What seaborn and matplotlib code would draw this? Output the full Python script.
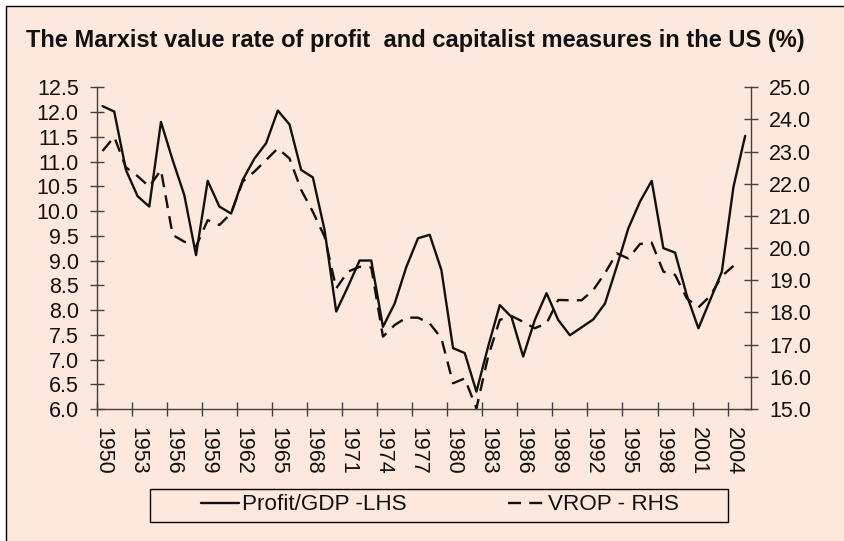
import numpy as np
import pandas as pd
import seaborn as sns
import matplotlib.pyplot as plt
from matplotlib.patches import Rectangle
from matplotlib.ticker import FormatStrFormatter, MultipleLocator

# data
years = list(range(1950, 2006))
profit_gdp = [12.12, 12.01, 10.83, 10.30, 10.09, 11.80, 11.03, 10.32, 9.11, 10.61,
              10.09, 9.95, 10.63, 11.06, 11.37, 12.03, 11.75, 10.83, 10.68, 9.62,
              7.97, 8.47, 9.00, 9.00, 7.66, 8.13, 8.87, 9.45, 9.52, 8.81,
              7.23, 7.13, 6.35, 7.26, 8.10, 7.86, 7.06, 7.80, 8.34, 7.80,
              7.49, 7.65, 7.81, 8.13, 8.87, 9.65, 10.19, 10.61, 9.25, 9.16,
              8.30, 7.63, 8.20, 8.77, 10.49, 11.52]
vrop = [23.02, 23.46, 22.51, 22.24, 21.91, 22.43, 20.41, 20.20, 20.05, 20.87,
        20.72, 21.08, 22.07, 22.38, 22.74, 23.10, 22.79, 21.81, 21.13, 20.36,
        18.75, 19.27, 19.42, 19.40, 17.25, 17.61, 17.84, 17.84, 17.66, 17.20,
        15.80, 15.95, 15.02, 16.63, 17.77, 17.89, 17.71, 17.51, 17.66, 18.39,
        18.38, 18.38, 18.70, 19.22, 19.84, 19.68, 20.13, 20.17, 19.27, 19.17,
        18.44, 18.16, 18.51, 19.13, 19.45, np.nan]
title = 'The Marxist value rate of profit  and capitalist measures in the US (%)'
label_lhs = 'Profit/GDP -LHS'
label_rhs = 'VROP - RHS'

BG = '#FDE8DD'
INK = '#111111'
AXC = '#404040'

df = pd.DataFrame({'year': years, 'profit': profit_gdp, 'vrop': vrop})
df['pos'] = np.arange(len(df))

sns.set_theme(style='white')
plt.rcParams['font.family'] = ['Liberation Sans', 'DejaVu Sans']

W, H = 844, 541
fig = plt.figure(figsize=(W / 100, H / 100), dpi=100, facecolor='white')

# chart-area frame (top/left border visible, cut at right/bottom)
fig.patches.append(Rectangle((6 / W, -0.1), 1.2, 1.1 - 6 / H, transform=fig.transFigure,
                             facecolor=BG, edgecolor='black', lw=1.0, zorder=-10))

ax = fig.add_axes([96.7 / W, 1 - 409 / H, (751 - 96.7) / W, (409 - 87.3) / H])
ax.set_facecolor('none')
ax2 = ax.twinx()
ax2.set_facecolor('none')

sns.lineplot(data=df, x='pos', y='profit', ax=ax, color=INK, lw=1.7, label=label_lhs, legend=False)
sns.lineplot(data=df, x='pos', y='vrop', ax=ax2, color=INK, lw=1.7,
             linestyle=(0, (5.5, 3.5)), label=label_rhs, legend=False)

n = len(years)
ax.set_xlim(-0.5, n - 0.5)
ax.set_ylim(6.0, 12.5)
ax2.set_ylim(15.0, 25.0)

ax.yaxis.set_major_locator(MultipleLocator(0.5))
ax.yaxis.set_major_formatter(FormatStrFormatter('%.1f'))
ax2.yaxis.set_major_locator(MultipleLocator(1.0))
ax2.yaxis.set_major_formatter(FormatStrFormatter('%.1f'))

# ticks between categories, labels at category centres
ax.set_xticks(np.arange(-0.5, n, 3))
ax.set_xticklabels([])
ax.set_xticks(df['pos'][::3], minor=True)
ax.set_xticklabels([str(y) for y in years[::3]], minor=True, rotation=-90)

for a in (ax, ax2):
    a.set_xlabel('')
    a.set_ylabel('')
    a.grid(False)
    for s in a.spines.values():
        s.set_visible(False)

ax.spines['left'].set_visible(True)
ax.spines['bottom'].set_visible(True)
ax2.spines['right'].set_visible(True)
for s in (ax.spines['left'], ax.spines['bottom'], ax2.spines['right']):
    s.set_color(AXC)
    s.set_linewidth(1.0)

ax.tick_params(axis='y', direction='inout', length=10, width=1, color=AXC, pad=8,
               labelsize=15.5, labelcolor=INK, left=True)
ax2.tick_params(axis='y', direction='inout', length=10, width=1, color=AXC, pad=8,
                labelsize=15.5, labelcolor=INK, right=True)
ax.tick_params(axis='x', which='major', direction='inout', length=10, width=1, color=AXC, bottom=True)
ax.tick_params(axis='x', which='minor', length=0, pad=13, labelsize=15.5, labelcolor=INK)

fig.text(26 / W, 1 - 40 / H, title, fontsize=17, fontweight='bold', color=INK,
         ha='left', va='center')

# legend box
fig.patches.append(Rectangle((150 / W, 1 - 521.5 / H), 578 / W, 33 / H, transform=fig.transFigure,
                             facecolor='none', edgecolor='black', lw=1.0))
h1, l1 = ax.get_legend_handles_labels()
h2, l2 = ax2.get_legend_handles_labels()
fig.legend(h1 + h2, l1 + l2, loc='center', bbox_to_anchor=(440 / W, 1 - 505 / H),
           ncol=2, frameon=False, fontsize=16.2, handlelength=1.7, handletextpad=0.1,
           columnspacing=4.5, labelcolor=INK)

fig.savefig('out.png', dpi=100, facecolor='white')
